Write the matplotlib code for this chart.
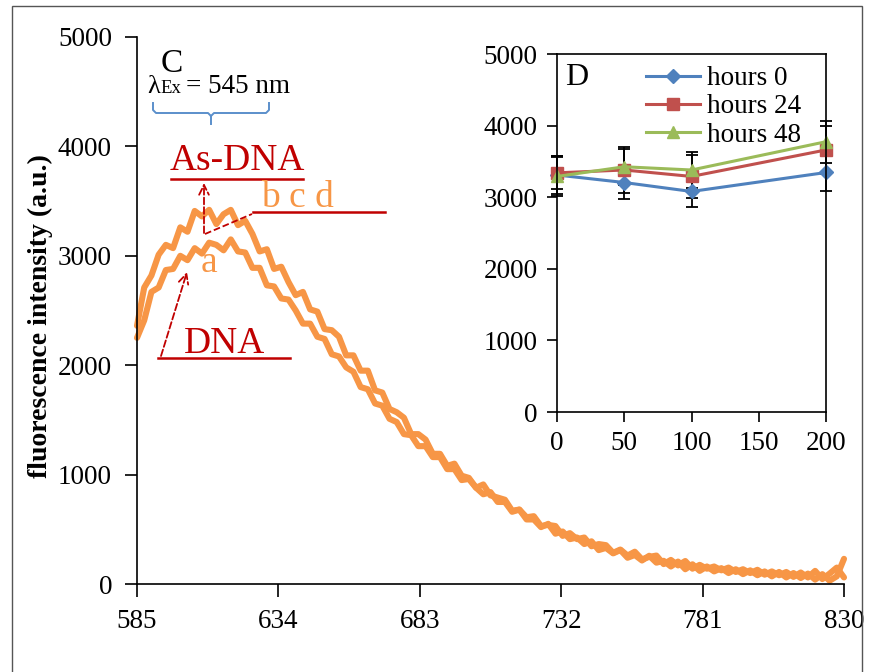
import numpy as np
import matplotlib
matplotlib.use("Agg")
import matplotlib.pyplot as plt
from matplotlib.lines import Line2D
from matplotlib.patches import Rectangle

W, H = 874, 672
plt.rcParams['font.family'] = ['Liberation Serif', 'DejaVu Serif']

# emission spectra (panel C), sampled every 2.5 nm from 585 to 830 nm
wavelength = np.arange(585, 830.1, 2.5)
spec_bcd = [2360, 2710, 2820, 3010, 3100, 3070, 3260, 3220, 3410, 3360,
            3420, 3290, 3380, 3420, 3280, 3320, 3200, 3040, 3060, 2880,
            2900, 2760, 2640, 2670, 2510, 2490, 2330, 2320, 2260, 2090,
            2090, 1950, 1950, 1770, 1750, 1600, 1570, 1520, 1370, 1370,
            1320, 1190, 1190, 1080, 1100, 990, 970, 880, 910, 810,
            790, 770, 670, 680, 610, 620, 530, 540, 530, 440,
            465, 410, 425, 345, 365, 355, 285, 315, 260, 295,
            225, 248, 260, 182, 220, 170, 210, 140, 175, 140,
            160, 125, 150, 110, 135, 100, 130, 85, 115, 80,
            110, 65, 105, 60, 120, 45, 95, 150, 60]
spec_a = [2250, 2410, 2670, 2710, 2870, 2880, 3000, 2960, 3070, 3020,
          3120, 3100, 3050, 3150, 3040, 3030, 2890, 2890, 2730, 2720,
          2610, 2600, 2500, 2380, 2380, 2260, 2240, 2100, 2080, 1980,
          1940, 1800, 1780, 1650, 1630, 1510, 1480, 1370, 1360, 1260,
          1260, 1160, 1160, 1050, 1050, 950, 960, 880, 820, 840,
          750, 750, 660, 680, 590, 590, 520, 550, 460, 480,
          410, 425, 365, 390, 310, 330, 280, 310, 240, 265,
          215, 258, 195, 212, 160, 205, 135, 180, 120, 160,
          115, 145, 100, 135, 90, 125, 80, 115, 70, 110,
          60, 100, 55, 95, 40, 90, 30, 70, 230]

# inset (panel D)
doses = [0, 50, 100, 200]
hours0 = [3310, 3205, 3080, 3345]
hours24 = [3340, 3380, 3290, 3660]
hours48 = [3290, 3425, 3380, 3775]
err0 = [260, 230, 215, 255]
err24 = [230, 320, 300, 330]
err48 = [270, 250, 255, 295]

orange = '#F79646'
dred = '#C00000'
fs = 19.5

fig = plt.figure(figsize=(8.74, 6.72), dpi=100)


def px(x, y):
    return (x / W, 1 - y / H)


def fline(x1, y1, x2, y2, **kw):
    a, b = px(x1, y1)
    c, d = px(x2, y2)
    fig.add_artist(Line2D([a, c], [b, d], transform=fig.transFigure, **kw))


fig.add_artist(Rectangle(px(12, 690), (862 - 12) / W, (690 - 6) / H,
                         transform=fig.transFigure, fill=False,
                         ec='#555555', lw=1))

# main axes
ax = fig.add_axes([137 / W, 1 - 584 / H, (844 - 137) / W, (584 - 37) / H])
for spec in (spec_a, spec_bcd):
    ax.plot(wavelength, spec, color=orange, lw=4.4, solid_joinstyle='round',
            solid_capstyle='round', clip_on=False)
ax.set_xlim(585, 830)
ax.set_ylim(0, 5000)
ax.set_xticks([585, 634, 683, 732, 781, 830])
ax.set_yticks(range(0, 5001, 1000))
ax.spines['top'].set_visible(False)
ax.spines['right'].set_visible(False)
for s in ['left', 'bottom']:
    ax.spines[s].set_linewidth(1.2)
ax.tick_params(direction='out', length=9, width=1.2, labelsize=fs, pad=9)

fig.text(*px(40, 316), 'fluorescence intensity (a.u.)', rotation=90,
         fontsize=20, fontweight='bold', ha='center', va='center')

# annotations
fig.text(*px(161, 72), 'C', fontsize=24, va='baseline')
fig.text(*px(147, 93), 'λ', fontsize=19, va='baseline')
fig.text(*px(160, 93), 'Ex', fontsize=13.5, va='baseline')
fig.text(*px(186, 93), '= 545 nm', fontsize=19.5, va='baseline')

brace = '#5B8FCB'
bx = [153, 153, 156, 208, 211, 211]
by = [103, 110, 113, 113, 116, 124]
fig.add_artist(Line2D([x / W for x in bx], [1 - y / H for y in by],
                      transform=fig.transFigure, color=brace, lw=1.4))
bx = [211, 214, 266, 269, 269]
by = [116, 113, 113, 110, 103]
fig.add_artist(Line2D([x / W for x in bx], [1 - y / H for y in by],
                      transform=fig.transFigure, color=brace, lw=1.4))

fig.text(*px(170, 170), 'As-DNA', fontsize=27, color=dred, va='baseline')
fline(171, 179, 303, 179, color=dred, lw=1.8)
fig.text(*px(261, 207), 'b c d', fontsize=27, color=orange, va='baseline')
fline(253, 212, 385, 212, color=dred, lw=1.8)
fig.text(*px(201, 272), 'a', fontsize=27, color=orange, va='baseline')
fig.text(*px(184, 353), 'DNA', fontsize=27, color=dred, va='baseline')
fline(158, 358, 290, 358, color=dred, lw=1.8)

arrow = dict(arrowstyle='->,head_length=0.7,head_width=0.35', linestyle='--',
             color=dred, lw=1.3, shrinkA=0, shrinkB=0)
ax.annotate('', xy=px(187, 272), xycoords='figure fraction',
            xytext=px(161, 356), textcoords='figure fraction', arrowprops=arrow)
ax.annotate('', xy=px(204, 183), xycoords='figure fraction',
            xytext=px(204, 233), textcoords='figure fraction', arrowprops=arrow)
fline(205, 234, 252, 214, color=dred, lw=1.3, ls='--')

# inset
ins = fig.add_axes([557 / W, 1 - 412 / H, (826 - 557) / W, (412 - 54) / H])
ins.set_zorder(5)
ins.set_facecolor('white')
handles, labels = [], []
for vals, errs, color, marker, label in [
        (hours0, err0, '#4F81BD', 'D', 'hours 0'),
        (hours24, err24, '#C0504D', 's', 'hours 24'),
        (hours48, err48, '#9BBB59', '^', 'hours 48')]:
    c = ins.errorbar(doses, vals, yerr=errs, color=color, marker=marker,
                     ms=8 if marker != 'D' else 7, lw=2.2, ecolor='black',
                     elinewidth=1.3, capsize=4.5, capthick=1.3, clip_on=False)
    for part in c.lines[1] + c.lines[2]:
        part.set_clip_on(False)
    handles.append(c[0])
    labels.append(label)
ins.set_xlim(0, 200)
ins.set_ylim(0, 5000)
ins.set_xticks([0, 50, 100, 150, 200])
ins.set_yticks(range(0, 5001, 1000))
for s in ins.spines.values():
    s.set_linewidth(1.2)
ins.tick_params(direction='out', length=7, width=1.2, labelsize=fs, pad=7)
ins.text(0.03, 0.975, 'D', transform=ins.transAxes, fontsize=23, va='top')
ins.legend(handles, labels, loc='upper left', bbox_to_anchor=px(646, 66),
           bbox_transform=fig.transFigure, frameon=False, fontsize=fs,
           handlelength=2.0, handletextpad=0.25, labelspacing=0.12,
           borderpad=0, borderaxespad=0)

fig.savefig('out.png', dpi=100)
